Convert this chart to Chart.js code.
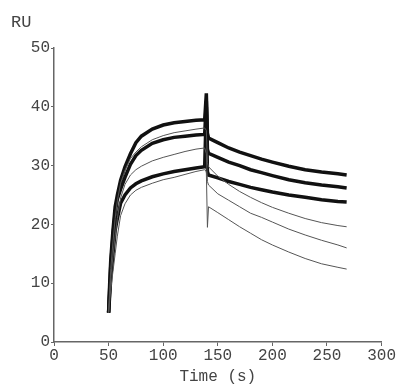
<!DOCTYPE html>
<html>
<head>
<meta charset="utf-8">
<script src="https://cdn.jsdelivr.net/npm/chart.js@4/dist/chart.umd.min.js"></script>
<style>
  html, body { margin: 0; padding: 0; background: #fff; }
  #wrap { width: 396px; height: 386px; position: relative; }
</style>
</head>
<body>
<div id="wrap"><canvas id="sensorChart"></canvas></div>
<script>
// sensorgram: injection at ~50 s, wash at ~140 s
const time = [50, 51, 52, 54, 56, 58, 61, 65, 70, 75, 80, 90, 100, 110, 120, 130, 138,
              139.5, 140.5, 141.5, 150, 160, 170, 180, 190, 200, 215, 230, 245, 260, 268];

const thick1 = [5, 10, 14, 19, 23, 25, 27.5, 29.8, 32, 33.9, 35, 36.2, 36.9, 37.3, 37.5, 37.7, 37.8,
                42.3, 35.5, 34.7, 33.9, 33, 32.3, 31.7, 31.1, 30.6, 29.9, 29.3, 28.9, 28.6, 28.4];
const thick2 = [5, 9, 13, 18, 22, 24.3, 26, 28, 30.2, 31.7, 32.6, 33.8, 34.4, 34.8, 35, 35.2, 35.3,
                41, 32.8, 32.1, 31.4, 30.6, 30, 29.3, 28.8, 28.3, 27.6, 27.1, 26.7, 26.4, 26.2];
const thick3 = [5, 8, 11, 15, 19, 21, 23.6, 25, 26.2, 26.9, 27.4, 28.1, 28.6, 29, 29.3, 29.6, 29.8,
                40, 29, 28.4, 27.9, 27.3, 26.8, 26.3, 25.9, 25.5, 25, 24.6, 24.2, 23.9, 23.8];
const thin1 = [5, 9, 12.5, 17, 21, 24, 27, 29.2, 31.2, 32.3, 33.2, 34.4, 35.1, 35.6, 35.9, 36.2, 36.4,
               36, 30.5, 29.8, 28.2, 26.8, 25.6, 24.6, 23.7, 22.9, 21.9, 21, 20.3, 19.8, 19.6];
const thin2 = [5, 8, 11, 14.5, 18, 21, 24.5, 26.8, 28.4, 29.3, 29.9, 30.8, 31.4, 31.9, 32.4, 32.8, 33,
               32, 27.3, 26.7, 25.2, 24.1, 23, 21.9, 21.2, 20.4, 19.2, 18.2, 17.3, 16.5, 16];
const thin3 = [5, 7, 9, 12, 15, 18, 21.5, 23.5, 25, 25.8, 26.3, 27, 27.6, 28, 28.5, 29, 29.3,
               29, 19.5, 23, 22, 20.8, 19.6, 18.5, 17.4, 16.5, 15.3, 14.2, 13.3, 12.7, 12.4];

const xTicks = [0, 50, 100, 150, 200, 250, 300];
const yTicks = [0, 10, 20, 30, 40, 50];

const FONT = '"Liberation Mono", "DejaVu Sans Mono", monospace';
const TXT = '#444';

function toPoints(vals) {
    return vals.map((v, i) => ({ x: time[i], y: v }));
}

function line(vals, thick) {
    return {
        data: toPoints(vals),
        borderColor: thick ? '#111' : '#555',
        borderWidth: thick ? 3.5 : 1,
        pointRadius: 0,
        tension: 0,
        fill: false
    };
}

const ruLabel = {
    id: 'ruLabel',
    afterDraw(chart) {
        const ctx = chart.ctx;
        ctx.save();
        ctx.font = '17px ' + FONT;
        ctx.fillStyle = TXT;
        ctx.textBaseline = 'middle';
        ctx.fillText('RU', 11, 22);
        ctx.restore();
    }
};

new Chart(document.getElementById('sensorChart'), {
    type: 'line',
    data: {
        datasets: [
            line(thin3, false), line(thin2, false), line(thin1, false),
            line(thick3, true), line(thick2, true), line(thick1, true)
        ]
    },
    options: {
        responsive: true,
        maintainAspectRatio: false,
        animation: false,
        layout: { padding: { top: 48, right: 14, left: 0, bottom: 0 } },
        plugins: { legend: { display: false }, tooltip: { enabled: false } },
        scales: {
            x: {
                type: 'linear', min: 0, max: 300,
                afterFit(scale) { scale.height = 44; },
                afterBuildTicks(scale) { scale.ticks = xTicks.map(v => ({ value: v })); },
                border: { color: '#666', width: 1.5 },
                grid: { drawOnChartArea: false, tickLength: 4, color: '#666' },
                ticks: { autoSkip: false, maxRotation: 0, padding: 0, color: TXT, font: { family: FONT, size: 16 } },
                title: { display: true, text: 'Time (s)', color: TXT, padding: { top: 0, bottom: 0 }, font: { family: FONT, size: 16 } }
            },
            y: {
                type: 'linear', min: 0, max: 50,
                afterFit(scale) { scale.width = 54; },
                afterBuildTicks(scale) { scale.ticks = yTicks.map(v => ({ value: v })); },
                border: { color: '#666', width: 1.5 },
                grid: { drawOnChartArea: false, tickLength: 3, color: '#666' },
                ticks: { padding: 1, color: TXT, font: { family: FONT, size: 16 } }
            }
        }
    },
    plugins: [ruLabel]
});
</script>
</body>
</html>
